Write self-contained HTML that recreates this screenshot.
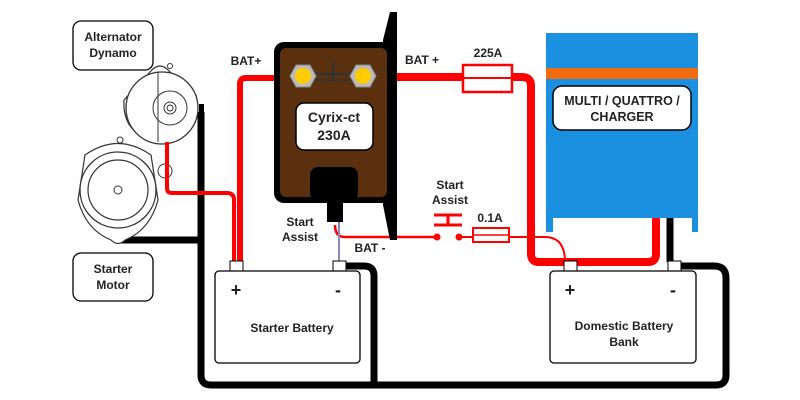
<!DOCTYPE html>
<html><head><meta charset="utf-8"><style>
html,body{margin:0;padding:0;background:#fff;width:800px;height:400px;overflow:hidden}
svg{display:block}
text{font-family:"Liberation Sans",Arial,sans-serif;font-weight:bold;fill:#222}
</style></head><body>
<svg width="800" height="400" viewBox="0 0 800 400" xmlns="http://www.w3.org/2000/svg">
<!-- black bottom loop -->
<path d="M201 112 V375 Q201 385 211 385 H716 Q726 385 726 375 V278 Q726 266 714 266 H674" fill="none" stroke="#000" stroke-width="7"/>
<path d="M339 266 H364 Q374 266 374 276 V385" fill="none" stroke="#000" stroke-width="7"/>
<path d="M118 240 H201" stroke="#000" stroke-width="7"/>
<path d="M670 218 V262" stroke="#000" stroke-width="7"/>

<!-- starter motor -->
<path d="M85 155 Q118 132 151 155 L158 200 Q150 230 125 240 Q118 247 111 240 Q86 230 78 200 Z" fill="#fff" stroke="#333" stroke-width="1.2"/>
<circle cx="118" cy="190" r="38" fill="#fff" stroke="#333" stroke-width="1.3"/>
<circle cx="118" cy="190" r="30" fill="none" stroke="#333" stroke-width="1.2"/>
<circle cx="118" cy="190" r="4" fill="none" stroke="#333"/>
<circle cx="120" cy="140" r="3" fill="none" stroke="#333"/>
<circle cx="165" cy="171" r="7" fill="none" stroke="#333"/>
<!-- alternator -->
<path d="M150 72 Q160 60 170 72 L196 95 Q200 130 170 140 L150 140 Q122 130 124 100 Z" fill="#fff" stroke="#333" stroke-width="1.2"/>
<circle cx="162" cy="108" r="36" fill="#fff" stroke="#333" stroke-width="1.3"/>
<line x1="158" y1="72" x2="158" y2="142" stroke="#333"/>
<circle cx="170" cy="108" r="17" fill="none" stroke="#333"/>
<circle cx="170" cy="108" r="6" fill="none" stroke="#333"/>
<circle cx="170" cy="108" r="3" fill="none" stroke="#333"/>
<circle cx="170" cy="66" r="2.5" fill="none" stroke="#333"/>
<rect x="199" y="104" width="5" height="10" fill="#000"/>

<!-- red wires -->
<path d="M167 142 V188 Q167 193 172 193 H227 Q234 193 234 200 V262" fill="none" stroke="#f00" stroke-width="4"/>
<path d="M290 78 H246 Q240 78 240 84 V262" fill="none" stroke="#f00" stroke-width="6"/>
<path d="M372 77 H522 Q531 77 531 86 V254 Q531 262 539 262 H648 Q656 262 656 254 V218" fill="none" stroke="#f00" stroke-width="8"/>
<!-- start assist thin wire -->
<path d="M335 225 Q335 237 345 237 H437" fill="none" stroke="#f00" stroke-width="2.5"/>
<path d="M459 237 H545 Q565 237 565 262" fill="none" stroke="#f00" stroke-width="2"/>
<line x1="339" y1="222" x2="339" y2="262" stroke="#8888bb" stroke-width="2"/>
<circle cx="437" cy="237" r="3.5" fill="#f00"/><circle cx="459" cy="237" r="3.5" fill="#f00"/>
<path d="M434 215 H462 M448 215 V226 M434 225 H462" stroke="#f00" stroke-width="3" fill="none"/>
<rect x="473" y="228" width="36" height="14" fill="#fff" stroke="#f00" stroke-width="2"/>
<line x1="473" y1="235" x2="509" y2="235" stroke="#f00" stroke-width="1.5"/>
<rect x="463" y="65" width="49" height="27" fill="#fff" stroke="#f00" stroke-width="2.5"/>
<line x1="463" y1="78" x2="512" y2="78" stroke="#f00" stroke-width="2"/>

<!-- cyrix bracket -->
<path d="M383 40 L390 12 H397 V240 H390 L383 205 Z" fill="#000"/>
<rect x="274" y="42" width="119" height="161" rx="10" fill="#000"/>
<rect x="280" y="48" width="107" height="149" rx="6" fill="#5a300e"/>
<line x1="303" y1="74" x2="363" y2="74" stroke="#333" stroke-width="2"/><line x1="303" y1="80" x2="363" y2="80" stroke="#333" stroke-width="2"/>
<line x1="333" y1="62" x2="333" y2="82" stroke="#333" stroke-width="2.5"/>
<polygon points="290,76 296,65 310,65 316,76 310,87 296,87" fill="#bbb" stroke="#888"/>
<polygon points="350,76 356,65 370,65 376,76 370,87 356,87" fill="#bbb" stroke="#888"/>
<circle cx="303" cy="76" r="8" fill="#fc0"/><circle cx="363" cy="76" r="8" fill="#fc0"/>
<rect x="296" y="103" width="77" height="47" rx="8" fill="#fff" stroke="#000" stroke-width="1.5"/>
<text x="334" y="122" font-size="14" text-anchor="middle">Cyrix-ct</text>
<text x="334" y="140" font-size="14" text-anchor="middle">230A</text>
<rect x="310" y="167" width="48" height="34" rx="8" fill="#000"/>
<rect x="327" y="195" width="16" height="27" fill="#000"/>

<!-- multi -->
<path d="M546 33 H698 V232 H692 V218 H553 V232 H546 Z" fill="#1b8fe0"/>
<rect x="546" y="68" width="152" height="11" fill="#f26b0f"/>
<rect x="553" y="86" width="138" height="44" rx="9" fill="#fff" stroke="#000" stroke-width="1.5"/>
<text x="622" y="105" font-size="12.5" text-anchor="middle">MULTI / QUATTRO /</text>
<text x="622" y="121" font-size="12.5" text-anchor="middle">CHARGER</text>

<!-- batteries -->
<rect x="230" y="261" width="13" height="10" fill="#fff" stroke="#000"/>
<rect x="333" y="261" width="13" height="10" fill="#fff" stroke="#000"/>
<rect x="215" y="271" width="145" height="92" rx="4" fill="#fff" stroke="#000" stroke-width="1.3"/>
<text x="236" y="296" font-size="18" text-anchor="middle">+</text>
<text x="338" y="296" font-size="18" text-anchor="middle">-</text>
<text x="292" y="332" font-size="12" text-anchor="middle">Starter Battery</text>
<rect x="564" y="261" width="13" height="10" fill="#fff" stroke="#000"/>
<rect x="668" y="261" width="13" height="10" fill="#fff" stroke="#000"/>
<rect x="550" y="271" width="146" height="92" rx="4" fill="#fff" stroke="#000" stroke-width="1.3"/>
<text x="570" y="296" font-size="18" text-anchor="middle">+</text>
<text x="673" y="296" font-size="18" text-anchor="middle">-</text>
<text x="624" y="330" font-size="12" text-anchor="middle">Domestic Battery</text>
<text x="624" y="346" font-size="12" text-anchor="middle">Bank</text>

<!-- labels -->
<rect x="73" y="21" width="80" height="49" rx="8" fill="#fff" stroke="#000" stroke-width="1.3"/>
<text x="113" y="41" font-size="12" text-anchor="middle">Alternator</text>
<text x="113" y="57" font-size="12" text-anchor="middle">Dynamo</text>
<rect x="73" y="253" width="80" height="48" rx="8" fill="#fff" stroke="#000" stroke-width="1.3"/>
<text x="113" y="273" font-size="12" text-anchor="middle">Starter</text>
<text x="113" y="289" font-size="12" text-anchor="middle">Motor</text>
<text x="246" y="65" font-size="12" text-anchor="middle">BAT+</text>
<text x="422" y="64" font-size="12" text-anchor="middle">BAT +</text>
<text x="488" y="57" font-size="12" text-anchor="middle">225A</text>
<text x="300" y="226" font-size="12" text-anchor="middle">Start</text>
<text x="300" y="241" font-size="12" text-anchor="middle">Assist</text>
<text x="370" y="252" font-size="12" text-anchor="middle">BAT -</text>
<text x="450" y="189" font-size="12" text-anchor="middle">Start</text>
<text x="450" y="204" font-size="12" text-anchor="middle">Assist</text>
<text x="490" y="222" font-size="12" text-anchor="middle">0.1A</text>
</svg>
</body></html>
